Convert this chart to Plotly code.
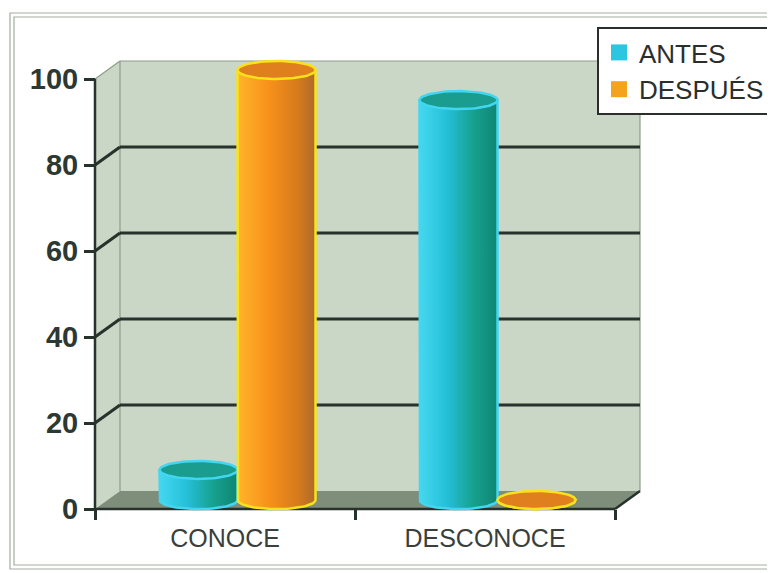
import numpy as np
import plotly.graph_objects as go

# ---------------- data ----------------
categories = ["CONOCE", "DESCONOCE"]
series_names = ["ANTES", "DESPUÉS"]
antes = [7, 93]
despues = [100, 0]
y_ticks = [0, 20, 40, 60, 80, 100]

# ---------------- styling / geometry ----------------
W, H = 775, 573
OFF = 8.0  # page body margin: reference pixel -> figure pixel
FONT = "Arial, Liberation Sans, sans-serif"
DARK = "#26322b"
WALL = "#cad7c6"
FLOOR = "#7f8d7b"
EDGE = "#8d9c8a"

PX_PER_CAT = 260.0
PX_PER_UNIT = 4.3
FRONT_X0 = 95.0 - OFF       # figure px x of category boundary -0.5 on front plane
FRONT_Y0 = 509.0 - OFF      # figure px y of value 0 on front plane
DEPTH_PX_X, DEPTH_PX_Y = 25.0, 18.0
MID_X0 = FRONT_X0 + DEPTH_PX_X / 2
MID_Y0 = FRONT_Y0 - DEPTH_PX_Y / 2
DX = (DEPTH_PX_X / 2) / PX_PER_CAT
DY = (DEPTH_PX_Y / 2) / PX_PER_UNIT

BAR_W = 0.30
RX = BAR_W / 2
RY = 9.0 / PX_PER_UNIT

series_style = [
    dict(legend="#2cc6e0", rim="#43d6f0", top="#1a9c8e",
         scale=[[0, "#45d8f0"], [0.35, "#24c0d8"], [0.7, "#16a08c"], [1, "#0f8574"]]),
    dict(legend="#f5a21e", rim="#f9e21c", top="#df7f1e",
         scale=[[0, "#ffb52a"], [0.4, "#f7911a"], [0.78, "#d57a1d"], [1, "#ad6a2a"]]),
]
series_values = [antes, despues]
offsets = [-BAR_W, 0.0]

fig = go.Figure()
x_idx = list(range(len(categories)))

# base bars
for name, vals, st, off in zip(series_names, series_values, series_style, offsets):
    fig.add_trace(go.Bar(
        x=x_idx, y=vals, name=name, width=BAR_W, offset=off,
        marker=dict(color=st["legend"], line=dict(width=0)),
        hoverinfo="skip", xaxis="x", yaxis="y", showlegend=False, legendgroup=name,
    ))

# cylinder shading built from the same values
t_bot = np.linspace(np.pi, 2 * np.pi, 40)
t_full = np.linspace(0, 2 * np.pi, 80)
for name, vals, st, off in zip(series_names, series_values, series_style, offsets):
    for xi, v in zip(x_idx, vals):
        x0 = xi + off
        x1 = x0 + BAR_W
        xc = (x0 + x1) / 2
        bx = [x0, x0] + list(xc + RX * np.cos(t_bot)) + [x1, x0]
        by = [v, 0] + list(RY * np.sin(t_bot)) + [v, v]
        fig.add_trace(go.Scatter(
            x=bx, y=by, mode="lines", fill="toself",
            fillgradient=dict(type="horizontal", colorscale=st["scale"], start=x0, stop=x1),
            line=dict(color=st["rim"], width=2.5), legendgroup=name,
            showlegend=False, hoverinfo="skip", xaxis="x", yaxis="y",
        ))
        fig.add_trace(go.Scatter(
            x=list(xc + RX * np.cos(t_full)), y=list(v + RY * np.sin(t_full)),
            mode="lines", fill="toself", fillcolor=st["top"], legendgroup=name,
            line=dict(color=st["rim"], width=2.5),
            showlegend=False, hoverinfo="skip", xaxis="x", yaxis="y",
        ))

# legend entries (square swatches)
for name, st in zip(series_names, series_style):
    fig.add_trace(go.Scatter(
        x=[None], y=[None], mode="markers", name=name, legendgroup=name,
        marker=dict(symbol="square", size=18, color=st["legend"], line=dict(width=0)),
        xaxis="x", yaxis="y", hoverinfo="skip",
    ))

# dummy trace for front axes
fig.add_trace(go.Scatter(x=categories, y=[None, None], xaxis="x2", yaxis="y2",
                         showlegend=False, hoverinfo="skip", mode="markers"))

# ---------------- shapes (walls, floor, grid) ----------------
def pt(x, y):
    return f"{x},{y}"

L, R = -0.5, len(categories) - 0.5
top = y_ticks[-1]
shapes = []
shapes.append(dict(type="path", xref="x", yref="y", layer="below",
                   path=f"M {pt(L-DX,-DY)} L {pt(L-DX,top-DY)} L {pt(L+DX,top+DY)} L {pt(L+DX,DY)} Z",
                   fillcolor=WALL, line=dict(width=0)))
shapes.append(dict(type="rect", xref="x", yref="y", layer="below",
                   x0=L+DX, x1=R+DX, y0=DY, y1=top+DY, fillcolor=WALL, line=dict(width=0)))
for (xa, ya, xb, yb) in [(L+DX, top+DY, R+DX, top+DY), (R+DX, DY, R+DX, top+DY),
                         (L+DX, DY, L+DX, top+DY), (L-DX, top-DY, L+DX, top+DY)]:
    shapes.append(dict(type="line", xref="x", yref="y", layer="below",
                       x0=xa, y0=ya, x1=xb, y1=yb, line=dict(color=EDGE, width=1.2)))
for v in y_ticks[1:-1]:
    shapes.append(dict(type="line", xref="x", yref="y", layer="below",
                       x0=L+DX, y0=v+DY, x1=R+DX, y1=v+DY, line=dict(color=DARK, width=3)))
    shapes.append(dict(type="line", xref="x", yref="y", layer="below",
                       x0=L-DX, y0=v-DY, x1=L+DX, y1=v+DY, line=dict(color=DARK, width=3)))
shapes.append(dict(type="path", xref="x", yref="y", layer="below",
                   path=f"M {pt(L-DX,-DY)} L {pt(R-DX,-DY)} L {pt(R+DX,DY)} L {pt(L+DX,DY)} Z",
                   fillcolor=FLOOR, line=dict(width=0)))
shapes.append(dict(type="line", xref="x", yref="y", layer="below",
                   x0=R-DX, y0=-DY, x1=R+DX, y1=DY, line=dict(color=DARK, width=2.5)))
shapes.append(dict(type="line", xref="x", yref="y", layer="below",
                   x0=L-DX, y0=-DY, x1=R-DX, y1=-DY, line=dict(color=DARK, width=2.5)))
shapes.append(dict(type="line", xref="x", yref="y", layer="below",
                   x0=L-DX, y0=-DY, x1=L-DX, y1=top-DY, line=dict(color=DARK, width=2.5)))
# outer double border
for (bx0, by0, by1) in [(10, 13, 569), (14, 17, 565)]:
    shapes.append(dict(type="rect", xref="paper", yref="paper",
                       x0=(bx0-OFF)/W, x1=1.05, y0=1-(by1-OFF)/H, y1=1-(by0-OFF)/H,
                       line=dict(color="#a3ada1", width=1.2)))

# ---------------- axes ----------------
mid_xr = [L - MID_X0 / PX_PER_CAT, L + (W - MID_X0) / PX_PER_CAT]
mid_yr = [(MID_Y0 - H) / PX_PER_UNIT, MID_Y0 / PX_PER_UNIT]
front_xr = [L - FRONT_X0 / PX_PER_CAT, L + (W - FRONT_X0) / PX_PER_CAT]
front_yr = [(FRONT_Y0 - H) / PX_PER_UNIT, FRONT_Y0 / PX_PER_UNIT]

fig.update_layout(
    template="none",
    width=W, height=H, autosize=False,
    margin=dict(l=0, r=0, t=0, b=0, pad=0),
    paper_bgcolor="white", plot_bgcolor="rgba(0,0,0,0)",
    barmode="overlay",
    shapes=shapes,
    font=dict(family=FONT, color="#333a36"),
    xaxis=dict(range=mid_xr, domain=[0, 1], visible=False, fixedrange=True),
    yaxis=dict(range=mid_yr, domain=[0, 1], visible=False, fixedrange=True),
    xaxis2=dict(type="category", categoryorder="array", categoryarray=categories,
                range=front_xr, overlaying="x", anchor="free", position=1 - FRONT_Y0 / H,
                side="bottom", showgrid=False, zeroline=False, showline=False,
                ticks="outside", tickson="boundaries", ticklen=10, tickwidth=2.5,
                tickcolor=DARK, ticklabelstandoff=12,
                tickfont=dict(family=FONT, size=25, color="#3a3f3c"),
                automargin=False, fixedrange=True),
    yaxis2=dict(range=front_yr, overlaying="y", anchor="free", position=FRONT_X0 / W,
                side="left", showgrid=False, zeroline=False, showline=False,
                tickvals=y_ticks, ticktext=[str(v) for v in y_ticks],
                ticks="outside", ticklen=11, tickwidth=2.5, tickcolor=DARK,
                tickfont=dict(family=FONT, size=29, color="#2c3832", weight="bold"),
                automargin=False, fixedrange=True),
    legend=dict(x=(597-OFF)/W, y=1-(27-OFF)/H, xanchor="left", yanchor="top",
                bgcolor="white", bordercolor="#2a2f2c", borderwidth=2,
                font=dict(family=FONT, size=26, color="#2a2f2c"),
                traceorder="normal", itemsizing="trace", itemwidth=30, tracegroupgap=0),
    showlegend=True,
)

fig.write_html("out.html")
